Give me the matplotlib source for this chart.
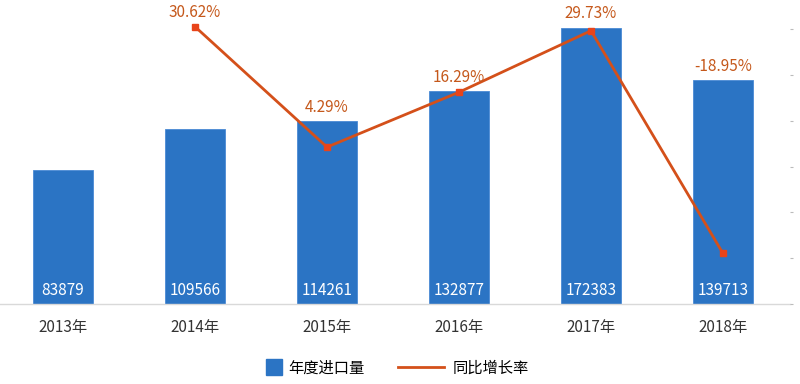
import matplotlib
matplotlib.use("Agg")
import matplotlib.pyplot as plt
import matplotlib.transforms as mtransforms
from matplotlib.lines import Line2D

plt.rcParams['font.family'] = ['Noto Sans CJK SC', 'DejaVu Sans']

years = ['2013年', '2014年', '2015年', '2016年', '2017年', '2018年']
imports = [83879, 109566, 114261, 132877, 172383, 139713]
growth_years = [1, 2, 3, 4, 5]  # index into years, 2013 has no growth value
growth = [30.62, 4.29, 16.29, 29.73, -18.95]

bar_color = '#2B74C4'
line_color = '#D4501A'
label_color = '#C5581B'

fig = plt.figure(figsize=(8, 3.84), dpi=100)
ax = fig.add_axes([0.0, 80 / 384, 790 / 800, 304 / 384])
x = list(range(len(years)))
ax.bar(x, imports, width=0.455, color=bar_color, edgecolor='#4A8AD4', linewidth=0.6,
       zorder=2)
ax.set_xlim(-63 / 132, 727 / 132)
ax.set_ylim(0, 172383 * 304 / 276)
ax.set_xticks(x)
ax.set_xticklabels(years, fontsize=11, color='#333333')
ax.tick_params(axis='x', length=0, pad=11)
ax.set_yticks([])
for s in ['top', 'left', 'right']:
    ax.spines[s].set_visible(False)
ax.spines['bottom'].set_color('#D9D9D9')
ax.spines['bottom'].set_linewidth(1)

# values inside bars
trans = mtransforms.blended_transform_factory(ax.transData, ax.transAxes)
for i, v in enumerate(imports):
    ax.text(i, 0.043, str(v), transform=trans, ha='center', va='center',
            color='white', fontsize=11, zorder=3)

ax2 = ax.twinx()
ax2.set_ylim(-30, 167.1 / 4.585)
ax2.plot(growth_years, growth, color=line_color, linewidth=2, marker='s',
         markersize=4.5, markerfacecolor='#E8441A', markeredgecolor='#E8441A',
         zorder=4)
ax2.set_yticks([-30, -20, -10, 0, 10, 20, 30])
ax2.set_yticklabels([])
ax2.tick_params(axis='y', length=2, color='#BBBBBB', direction='out')
for s in ['top', 'left', 'right', 'bottom']:
    ax2.spines[s].set_visible(False)

# growth labels placed above whichever is higher: bar top or point
fig.canvas.draw()
for xi, g in zip(growth_years, growth):
    bar_top = ax.transData.transform((xi, imports[xi]))[1]
    pt = ax2.transData.transform((xi, g))[1]
    top = max(bar_top, pt)
    xd = ax.transData.transform((xi, 0))[0]
    fig.text(xd / fig.dpi / fig.get_figwidth(), (top + 14) / (fig.dpi * fig.get_figheight()),
             f'{g:.2f}%', ha='center', va='center', color=label_color, fontsize=11)

# legend: two pieces so the square and the line get their own handle lengths
sq = Line2D([], [], marker='s', markersize=12, linestyle='none', color=bar_color)
ln = Line2D([], [], color=line_color, linewidth=2)
fig.legend([sq], ['年度进口量'], loc='center left', bbox_to_anchor=(252 / 800, 16 / 384),
           frameon=False, fontsize=11, handlelength=1.1, handletextpad=0.4)
fig.legend([ln], ['同比增长率'], loc='center left', bbox_to_anchor=(384 / 800, 16 / 384),
           frameon=False, fontsize=11, handlelength=3.0, handletextpad=0.6)

fig.savefig('out.png', dpi=100)
